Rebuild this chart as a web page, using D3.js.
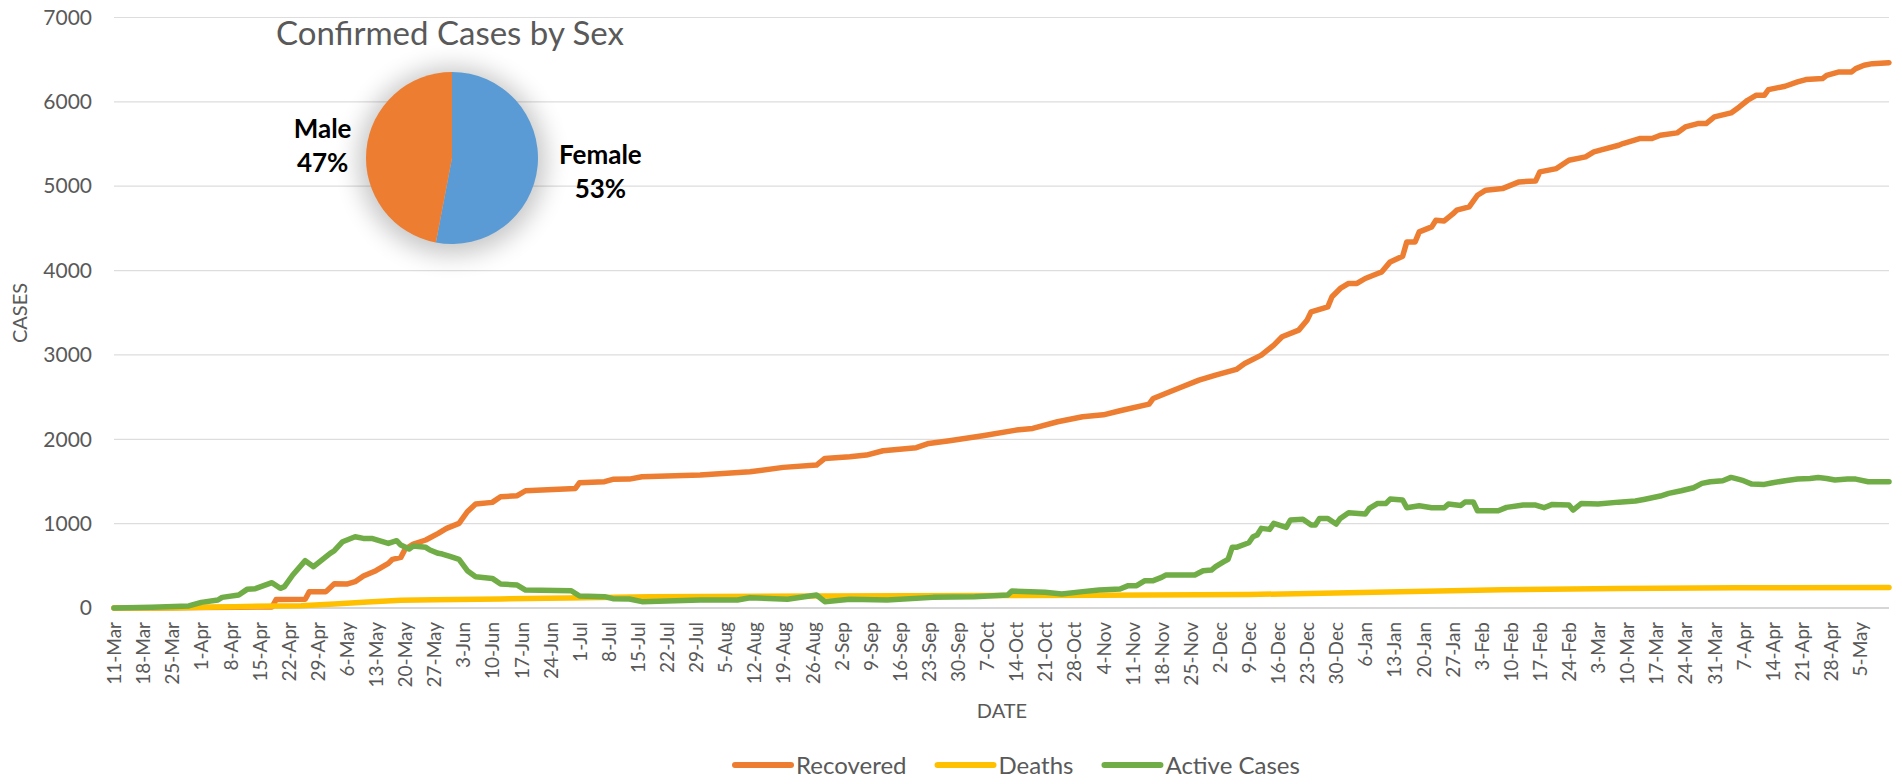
<!DOCTYPE html>
<html>
<head>
<meta charset="utf-8">
<script src="https://cdn.jsdelivr.net/npm/d3@7"></script>
<style>
  body { margin: 0; background: #ffffff; }
  svg text { font-family: Lato, "Open Sans", sans-serif; }
</style>
</head>
<body>
<div id="chart"></div>
<script>
// Recovered / Deaths / Active cases, daily since 11-Mar-2020, plus inset pie by sex

var svgWidth = 1902;
var svgHeight = 784;

var margin = { top: 17.5, right: 13, bottom: 176, left: 114 };
var width = svgWidth - margin.left - margin.right;
var height = svgHeight - margin.top - margin.bottom;

var startDate = new Date(2020, 2, 11);
var lastDay = 427;

// days since 11-Mar-2020 and values
var recoveredDays = [0, 10, 20, 30, 38, 39, 46, 47, 51, 53, 56, 58, 60, 63, 66, 67, 69, 70, 72, 75, 78, 80, 83, 85, 87, 91, 93, 97, 99, 111, 112, 118, 120, 124, 127, 141, 153, 161, 169, 171, 177, 181, 185, 193, 196, 201, 209, 217, 221, 227, 233, 238, 242, 249, 250, 254, 257, 261, 265, 270, 272, 276, 279, 281, 285, 287, 288, 292, 293, 295, 297, 299, 301, 304, 305, 307, 310, 311, 313, 314, 317, 318, 320, 322, 323, 326, 328, 330, 334, 338, 342, 343, 347, 350, 354, 356, 358, 362, 363, 367, 370, 372, 376, 378, 381, 383, 385, 389, 391, 393, 395, 397, 398, 402, 405, 407, 411, 412, 415, 418, 419, 421, 423, 427];
var recoveredValues = [0, 0, 5, 10, 12, 100, 103, 194, 194, 288, 284, 312, 379, 442, 529, 577, 600, 695, 758, 806, 885, 944, 1003, 1141, 1232, 1252, 1319, 1331, 1390, 1418, 1485, 1497, 1525, 1528, 1556, 1576, 1615, 1667, 1694, 1773, 1793, 1813, 1864, 1900, 1951, 1983, 2042, 2109, 2129, 2208, 2267, 2290, 2338, 2417, 2484, 2563, 2622, 2701, 2761, 2828, 2899, 2998, 3116, 3215, 3294, 3412, 3511, 3570, 3689, 3788, 3847, 3847, 3906, 3965, 3985, 4103, 4171, 4340, 4340, 4459, 4518, 4597, 4589, 4668, 4716, 4755, 4893, 4953, 4972, 5051, 5063, 5170, 5209, 5308, 5348, 5407, 5434, 5486, 5506, 5565, 5565, 5604, 5632, 5703, 5742, 5742, 5822, 5869, 5940, 6019, 6078, 6078, 6145, 6185, 6236, 6264, 6276, 6315, 6355, 6355, 6394, 6434, 6453, 6465];

var deathsDays = [0, 15, 29, 45, 53, 61, 69, 77, 93, 109, 129, 170, 213, 237, 273, 297, 334, 362, 390, 427];
var deathsValues = [0, 2, 16, 28, 47, 71, 91, 99, 107, 120, 134, 142, 148, 152, 160, 181, 215, 232, 239, 242];

var activeDays = [0, 9, 18, 21, 25, 26, 30, 32, 34, 38, 40, 41, 43, 46, 48, 52, 53, 55, 58, 60, 62, 66, 68, 69, 71, 72, 75, 76, 78, 79, 81, 83, 85, 87, 91, 93, 97, 99, 110, 112, 118, 120, 124, 127, 141, 150, 153, 162, 169, 171, 177, 186, 197, 207, 215, 216, 224, 228, 233, 237, 242, 244, 246, 248, 250, 252, 253, 260, 262, 264, 265, 267, 268, 269, 270, 273, 274, 275, 276, 278, 279, 282, 283, 286, 288, 289, 290, 292, 294, 295, 297, 301, 302, 304, 306, 307, 310, 311, 314, 317, 320, 321, 324, 325, 327, 328, 333, 335, 339, 342, 344, 346, 350, 351, 353, 357, 362, 366, 368, 372, 374, 377, 380, 382, 384, 387, 389, 390, 392, 394, 397, 399, 402, 405, 408, 410, 412, 414, 417, 419, 422, 427];
var activeValues = [0, 8, 24, 67, 95, 126, 154, 221, 229, 300, 233, 253, 391, 561, 490, 648, 679, 786, 845, 825, 825, 766, 798, 746, 699, 735, 719, 687, 648, 640, 608, 577, 442, 371, 351, 284, 272, 213, 205, 142, 134, 111, 107, 75, 95, 95, 122, 103, 154, 75, 103, 95, 126, 134, 154, 201, 186, 166, 194, 213, 225, 265, 265, 324, 324, 363, 391, 391, 442, 450, 490, 549, 577, 719, 719, 774, 845, 865, 944, 932, 1003, 956, 1043, 1051, 983, 983, 1062, 1062, 995, 1062, 1130, 1114, 1181, 1240, 1240, 1291, 1280, 1189, 1212, 1189, 1189, 1232, 1216, 1256, 1256, 1153, 1153, 1193, 1220, 1220, 1189, 1228, 1220, 1161, 1240, 1232, 1255, 1268, 1287, 1327, 1359, 1390, 1426, 1477, 1497, 1509, 1548, 1536, 1509, 1469, 1465, 1485, 1509, 1528, 1536, 1548, 1536, 1517, 1528, 1528, 1497, 1497];

var seriesNames = ["Recovered", "Deaths", "Active Cases"];
var seriesColors = ["#ED7D31", "#FFC000", "#70AD47"];

var yTicks = [0, 1000, 2000, 3000, 4000, 5000, 6000, 7000];

var sexLabels = ["Female", "Male"];
var sexShares = [53, 47];
var sexColors = ["#5B9BD5", "#ED7D31"];

var svg = d3.select("#chart")
  .append("svg")
  .attr("width", svgWidth)
  .attr("height", svgHeight);

var chartGroup = svg.append("g")
  .attr("transform", `translate(${margin.left}, ${margin.top})`);

var dayToDate = d => d3.timeDay.offset(startDate, d);

var xScale = d3.scaleTime()
  .domain([startDate, dayToDate(lastDay)])
  .range([0, width]);

var yScale = d3.scaleLinear()
  .domain([0, 7000])
  .range([height, 0]);

// gridlines
chartGroup.append("g")
  .selectAll("line")
  .data(yTicks)
  .enter()
  .append("line")
  .attr("x1", 0)
  .attr("x2", width)
  .attr("y1", d => yScale(d))
  .attr("y2", d => yScale(d))
  .attr("stroke", d => d === 0 ? "#C8C8C8" : "#DDDDDD")
  .attr("stroke-width", d => d === 0 ? 1.6 : 1.2);

// y axis (labels only)
var leftAxis = d3.axisLeft(yScale)
  .tickValues(yTicks)
  .tickFormat(d3.format("d"))
  .tickSize(0)
  .tickPadding(22);
chartGroup.append("g")
  .call(leftAxis)
  .call(g => g.select(".domain").remove())
  .selectAll("text")
  .attr("font-family", "Lato, sans-serif")
  .attr("font-size", "21px")
  .attr("fill", "#595959");

// x axis: weekly labels
var tickDates = d3.range(0, lastDay, 7).map(dayToDate);
var bottomAxis = d3.axisBottom(xScale)
  .tickValues(tickDates)
  .tickFormat(d3.timeFormat("%-d-%b"))
  .tickSize(0);

chartGroup.append("g")
  .attr("transform", `translate(0, ${height})`)
  .call(bottomAxis)
  .call(g => g.select(".domain").remove())
  .selectAll("text")
  .attr("font-family", "'Liberation Sans', Arial, sans-serif")
  .attr("font-size", "19px")
  .attr("fill", "#595959")
  .attr("text-anchor", "end")
  .attr("dx", "-14px")
  .attr("dy", "0.35em")
  .attr("x", 0)
  .attr("y", 0)
  .attr("transform", "rotate(-90)");

// lines
var seriesData = [
  recoveredDays.map((d, i) => ({ day: d, value: recoveredValues[i] })),
  deathsDays.map((d, i) => ({ day: d, value: deathsValues[i] })),
  activeDays.map((d, i) => ({ day: d, value: activeValues[i] }))
];

var line = d3.line()
  .x(d => xScale(dayToDate(d.day)))
  .y(d => yScale(d.value));

chartGroup.selectAll(".series")
  .data(seriesData)
  .enter()
  .append("path")
  .attr("class", "series")
  .attr("d", line)
  .attr("fill", "none")
  .attr("stroke", (d, i) => seriesColors[i])
  .attr("stroke-width", 5.5)
  .attr("stroke-linejoin", "round")
  .attr("stroke-linecap", "round");

// axis titles
svg.append("text")
  .attr("transform", `translate(27, 313) rotate(-90)`)
  .attr("text-anchor", "middle")
  .attr("font-size", "20px")
  .attr("fill", "#595959")
  .text("CASES");

svg.append("text")
  .attr("x", 1002)
  .attr("y", 718)
  .attr("text-anchor", "middle")
  .attr("font-size", "20px")
  .attr("fill", "#595959")
  .text("DATE");

// legend
var legend = svg.append("g");
var legendX = 735;
seriesNames.forEach(function(name, i) {
  var item = legend.append("g").attr("transform", `translate(${legendX}, 774)`);
  item.append("line")
    .attr("x1", 0).attr("x2", 56)
    .attr("y1", -9).attr("y2", -9)
    .attr("stroke", seriesColors[i])
    .attr("stroke-width", 6)
    .attr("stroke-linecap", "round");
  var t = item.append("text")
    .attr("x", 61)
    .attr("y", 0)
    .attr("font-size", "24px")
    .attr("fill", "#595959")
    .text(name);
  legendX += 61 + t.node().getComputedTextLength() + 31;
});

// inset pie
var pieCx = 452, pieCy = 158, pieR = 86;

var defs = svg.append("defs");
var blur = defs.append("filter")
  .attr("id", "pieShadow")
  .attr("x", "-50%").attr("y", "-50%")
  .attr("width", "200%").attr("height", "200%");
blur.append("feGaussianBlur").attr("stdDeviation", 12);

svg.append("text")
  .attr("x", 450)
  .attr("y", 45)
  .attr("text-anchor", "middle")
  .attr("font-size", "33px")
  .attr("fill", "#595959")
  .text("Confirmed Cases by Sex");

var pieGroup = svg.append("g")
  .attr("transform", `translate(${pieCx}, ${pieCy})`);

pieGroup.append("circle")
  .attr("r", pieR + 8)
  .attr("cx", 0)
  .attr("cy", 3)
  .attr("fill", "#000")
  .attr("opacity", 0.22)
  .attr("filter", "url(#pieShadow)");

var pie = d3.pie().sort(null).value(d => d);
var arc = d3.arc().innerRadius(0).outerRadius(pieR);
var labelArc = d3.arc().innerRadius(140).outerRadius(140);
var slices = pie(sexShares);

pieGroup.selectAll("path")
  .data(slices)
  .enter()
  .append("path")
  .attr("d", arc)
  .attr("fill", (d, i) => sexColors[i]);

var labels = pieGroup.selectAll(".pie-label")
  .data(slices)
  .enter()
  .append("text")
  .attr("class", "pie-label")
  .attr("text-anchor", "middle")
  .attr("font-size", "26px")
  .attr("font-weight", "bold")
  .attr("fill", "#000");

labels.append("tspan")
  .attr("x", d => labelArc.centroid(d)[0] + (d.index === 0 ? 9 : 10))
  .attr("y", d => labelArc.centroid(d)[1] - 7)
  .text((d, i) => sexLabels[i]);

labels.append("tspan")
  .attr("x", d => labelArc.centroid(d)[0] + (d.index === 0 ? 9 : 10))
  .attr("y", d => labelArc.centroid(d)[1] + 27)
  .text((d, i) => sexShares[i] + "%");
</script>
</body>
</html>
